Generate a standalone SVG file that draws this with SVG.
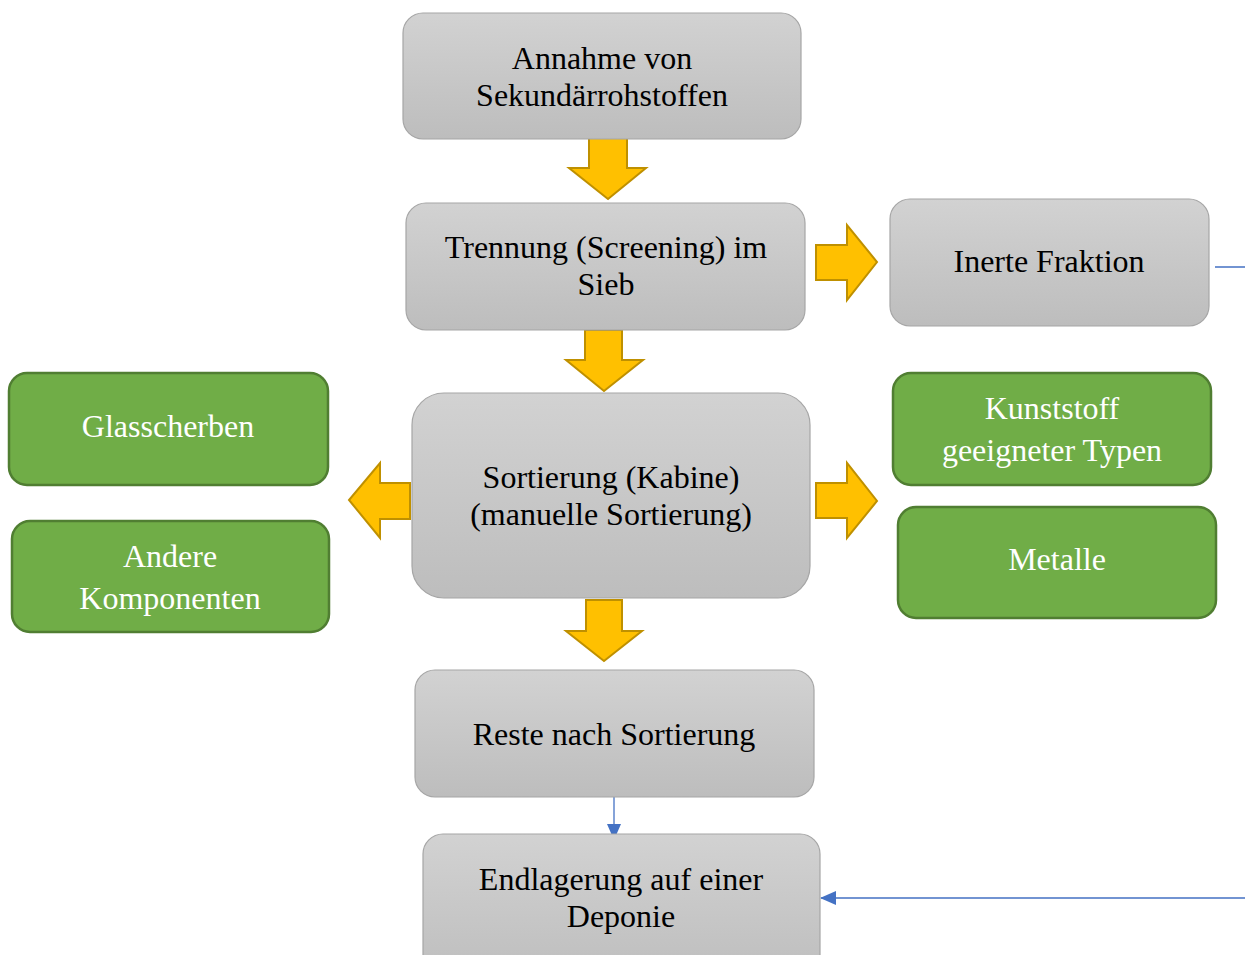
<svg xmlns="http://www.w3.org/2000/svg" width="1245" height="955" viewBox="0 0 1245 955">
<style>
.g{fill:url(#gr);stroke:#a6a6a6;stroke-width:1.2}
.gn{fill:#70ad47;stroke:#507e32;stroke-width:2.5}
.t{font-family:"Liberation Serif","Times New Roman",serif;font-size:32px;fill:#000;text-anchor:middle}
.w{fill:#fff}
.ar{fill:#ffc000;stroke:#bf9000;stroke-width:2;stroke-linejoin:miter}
.cn{fill:none;stroke:#4472c4;stroke-width:1.3}
</style>
<defs>
<linearGradient id="gr" x1="0" y1="0" x2="0" y2="1">
<stop offset="0" stop-color="#d2d2d2"/>
<stop offset="1" stop-color="#bdbdbd"/>
</linearGradient>
<marker id="ah" markerUnits="userSpaceOnUse" markerWidth="16" markerHeight="16" viewBox="0 0 16 16" refX="15" refY="8" orient="auto">
<path d="M0,1 L16,8 L0,15 Z" fill="#4472c4"/>
</marker>
</defs>
<rect width="1245" height="955" fill="#fff"/>
<g id="connectors">
<path class="ar" d="M589,138 H627 V168 H646 L608,199 L569,168 H589 Z"/>
<path class="ar" d="M585,330 H622 V360 H643 L604,391 L566,360 H585 Z"/>
<path class="ar" d="M586,600 H622 V631 H642 L604,661 L566,631 H586 Z"/>
<path class="ar" d="M816,245 H847 V225 L877,262 L847,300 V280 H816 Z"/>
<path class="ar" d="M816,483 H847 V463 L877,501 L847,538 V518 H816 Z"/>
<path class="ar" d="M410,483 H380 V463 L349,500 L380,538 V519 H410 Z"/>
<path class="cn" d="M614,797 V839" marker-end="url(#ah)"/>
<path class="cn" d="M1215,267 H1270 V898 H821" marker-end="url(#ah)"/>
</g>
<g id="n-annahme">
<rect class="g" x="403" y="13" width="398" height="126" rx="20"/>
<text class="t" x="602" y="69">Annahme von</text>
<text class="t" x="602" y="106">Sekundärrohstoffen</text>
</g>
<g id="n-trennung">
<rect class="g" x="406" y="203" width="399" height="127" rx="20"/>
<text class="t" x="606" y="258">Trennung (Screening) im</text>
<text class="t" x="606" y="295">Sieb</text>
</g>
<g id="n-inerte">
<rect class="g" x="890" y="199" width="319" height="127" rx="20"/>
<text class="t" x="1049" y="272">Inerte Fraktion</text>
</g>
<g id="n-sortierung">
<rect class="g" x="412" y="393" width="398" height="205" rx="32"/>
<text class="t" x="611" y="488">Sortierung (Kabine)</text>
<text class="t" x="611" y="525">(manuelle Sortierung)</text>
</g>
<g id="n-glas">
<rect class="gn" x="9" y="373" width="319" height="112" rx="18"/>
<text class="t w" x="168" y="437">Glasscherben</text>
</g>
<g id="n-andere">
<rect class="gn" x="12" y="521" width="317" height="111" rx="18"/>
<text class="t w" x="170" y="567">Andere</text>
<text class="t w" x="170" y="609">Komponenten</text>
</g>
<g id="n-kunststoff">
<rect class="gn" x="893" y="373" width="318" height="112" rx="18"/>
<text class="t w" x="1052" y="419">Kunststoff</text>
<text class="t w" x="1052" y="461">geeigneter Typen</text>
</g>
<g id="n-metalle">
<rect class="gn" x="898" y="507" width="318" height="111" rx="18"/>
<text class="t w" x="1057" y="570">Metalle</text>
</g>
<g id="n-reste">
<rect class="g" x="415" y="670" width="399" height="127" rx="20"/>
<text class="t" x="614" y="745">Reste nach Sortierung</text>
</g>
<g id="n-deponie">
<rect class="g" x="423" y="834" width="397" height="150" rx="20"/>
<text class="t" x="621" y="890">Endlagerung auf einer</text>
<text class="t" x="621" y="927">Deponie</text>
</g>
</svg>
